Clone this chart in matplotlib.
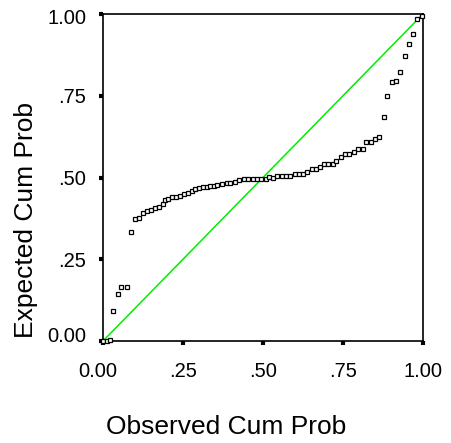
import matplotlib
matplotlib.use("Agg")
import matplotlib.pyplot as plt
import matplotlib.transforms as mtransforms

plt.rcParams['font.family'] = ['Liberation Sans', 'DejaVu Sans']

# Observed cumulative probabilities (x) and expected cumulative probabilities (y)
observed = [0.000, 0.0125, 0.022, 0.031, 0.047, 0.057, 0.074, 0.0875, 0.099, 0.112,
            0.125, 0.137, 0.150, 0.162, 0.175, 0.186, 0.193, 0.204, 0.217, 0.228,
            0.241, 0.253, 0.267, 0.277, 0.288, 0.300, 0.312, 0.324, 0.334, 0.347,
            0.357, 0.371, 0.386, 0.398, 0.412, 0.426, 0.441, 0.454, 0.468, 0.480,
            0.494, 0.508, 0.520, 0.532, 0.545, 0.558, 0.572, 0.584, 0.600, 0.6125,
            0.626, 0.638, 0.652, 0.666, 0.678, 0.692, 0.704, 0.718, 0.728, 0.743,
            0.756, 0.769, 0.784, 0.797, 0.811, 0.822, 0.837, 0.851, 0.8625, 0.878,
            0.888, 0.902, 0.915, 0.929, 0.945, 0.955, 0.970, 0.980, 0.996]
expected = [0.000, 0.000, 0.003, 0.093, 0.143, 0.164, 0.164, 0.332, 0.372, 0.377,
            0.390, 0.397, 0.402, 0.407, 0.410, 0.418, 0.430, 0.434, 0.439, 0.441,
            0.444, 0.450, 0.452, 0.460, 0.464, 0.467, 0.470, 0.472, 0.474, 0.475,
            0.477, 0.480, 0.482, 0.484, 0.485, 0.491, 0.495, 0.495, 0.495, 0.495,
            0.495, 0.495, 0.502, 0.500, 0.506, 0.506, 0.506, 0.506, 0.511, 0.511,
            0.511, 0.518, 0.525, 0.525, 0.531, 0.541, 0.541, 0.541, 0.551, 0.562,
            0.572, 0.572, 0.579, 0.587, 0.587, 0.608, 0.608, 0.618, 0.624, 0.684,
            0.750, 0.791, 0.796, 0.822, 0.872, 0.908, 0.939, 0.985, 0.995]

ref_line = [0.0, 1.0]
tick_vals = [0.0, 0.25, 0.5, 0.75, 1.0]
tick_labels = ['0.00', '.25', '.50', '.75', '1.00']

fig = plt.figure(figsize=(4.51, 4.43), dpi=100)
W, H = 451, 443
ax = fig.add_axes([103 / W, (H - 341) / H, 320 / W, 327 / H])

ax.plot(ref_line, ref_line, color='#00ee00', lw=1.1, zorder=2, clip_on=False)
ax.plot(observed, expected, linestyle='none', marker='s', ms=3.2,
        mfc='white', mec='black', mew=0.9, zorder=3, clip_on=False)

ax.set_xlim(0, 1)
ax.set_ylim(0, 1)
ax.set_xticks(tick_vals)
ax.set_yticks(tick_vals)
ax.set_xticklabels(tick_labels, fontsize=14.5)
ax.set_yticklabels(tick_labels, fontsize=14.5)
ax.tick_params(direction='out', length=3, width=3, color='black', pad=9)
ax.tick_params(axis='x', pad=12)

for s in ax.spines.values():
    s.set_linewidth(1.2)
    s.set_color('black')

# small offsets for the corner labels as in the reference
dpi = fig.dpi
xl = ax.get_xticklabels()
xl[0].set_transform(xl[0].get_transform() + mtransforms.ScaledTranslation(-5 / dpi, 0, fig.dpi_scale_trans))
yl = ax.get_yticklabels()
yl[0].set_transform(yl[0].get_transform() + mtransforms.ScaledTranslation(0, 7 / dpi, fig.dpi_scale_trans))
yl[-1].set_transform(yl[-1].get_transform() + mtransforms.ScaledTranslation(0, -3 / dpi, fig.dpi_scale_trans))

fig.text(226 / W, 1 - 427 / H, 'Observed Cum Prob', fontsize=19, ha='center', va='center')
fig.text(26 / W, 1 - 220 / H, 'Expected Cum Prob', fontsize=19, ha='center', va='center', rotation=90)

fig.savefig('out.png', dpi=100)
